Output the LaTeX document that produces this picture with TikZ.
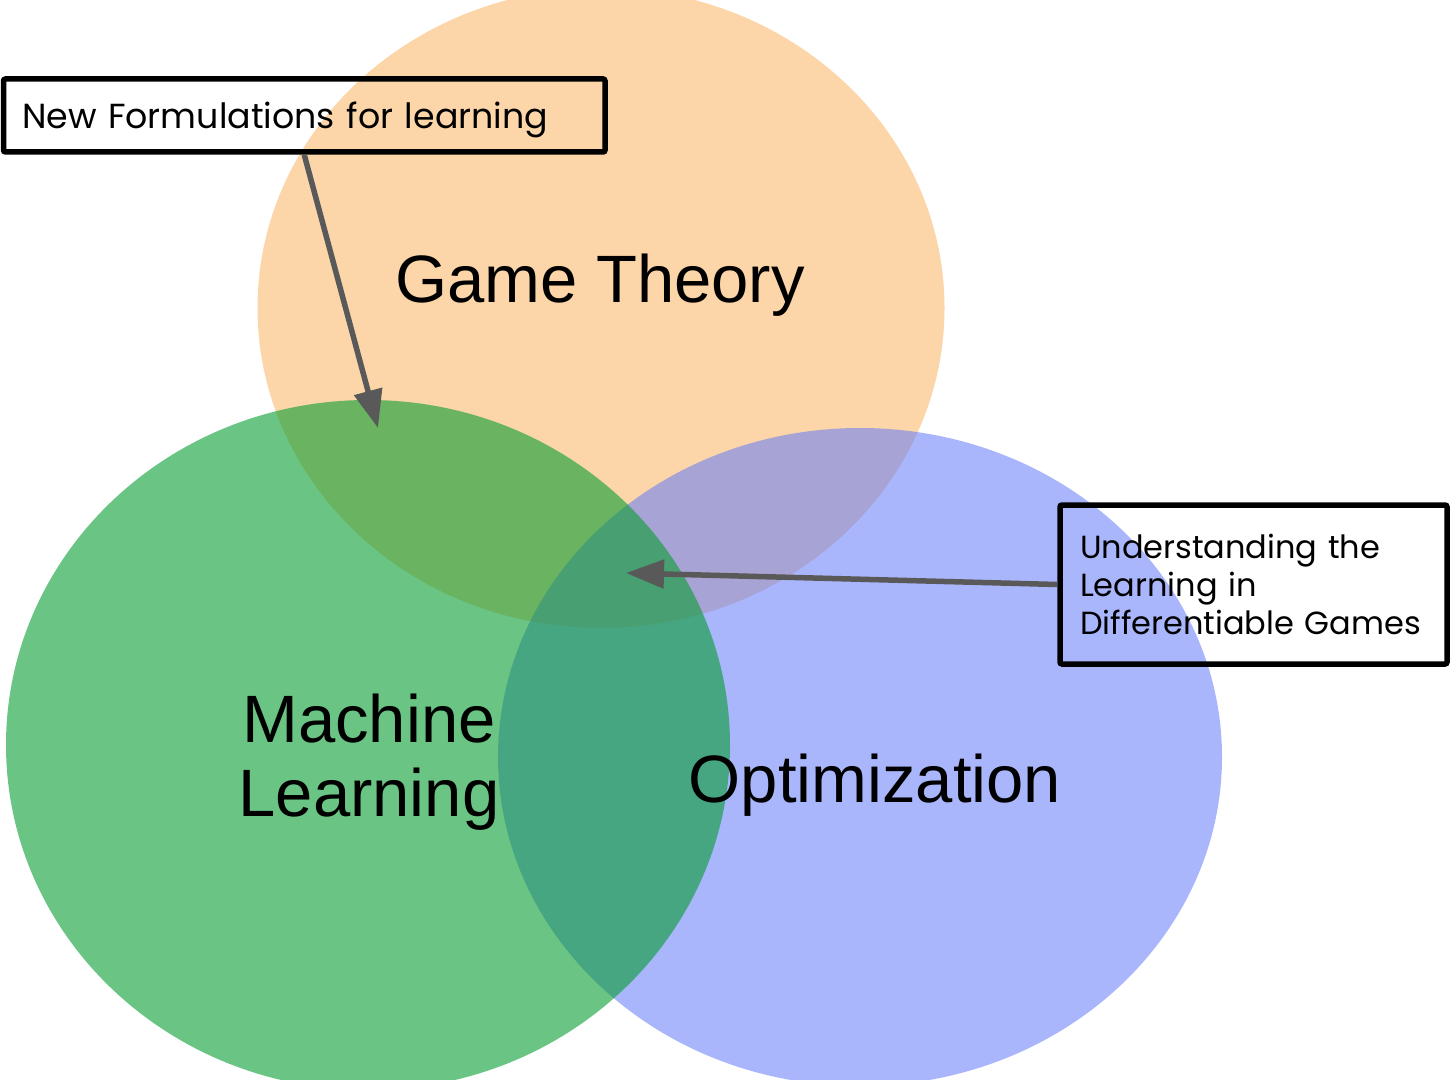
\documentclass[tikz,border=0pt]{standalone}
\usepackage{fontspec}
\setmainfont{Liberation Sans}
\newfontfamily\notefont{Poppins}
\usetikzlibrary{arrows.meta}
\definecolor{gtorange}{RGB}{252,213,168}
\definecolor{optblue}{RGB}{98,122,249}
\definecolor{mlgreen}{RGB}{7,157,50}
\definecolor{arrowgray}{RGB}{89,89,89}
\begin{document}
\begin{tikzpicture}[x=0.5pt,y=-0.5pt,
  field/.style={font=\fontsize{33.5}{37}\selectfont, inner sep=0pt, text=black},
  notebox/.style={draw=black, line width=2.75pt, rounded corners=1pt,
    font=\notefont\fontsize{16}{19}\selectfont, align=left, inner ysep=0pt},
  pointer/.style={draw=arrowgray, line width=2.75pt,
    -{Triangle[length=19pt,width=14pt]}}]
\useasboundingbox (0,0) rectangle (1450,1080);
\clip (0,0) rectangle (1450,1080);

% the three fields
\fill[gtorange] (601,308) ellipse [x radius=343.5, y radius=320];
\fill[optblue, fill opacity=0.55] (860,757) ellipse [x radius=362, y radius=329];
\fill[mlgreen, fill opacity=0.6] (368,745) ellipse [x radius=362, y radius=345];

% field names
\node[field, anchor=base] (gt) at (600,303) {Game Theory};
\node[field, anchor=center, align=center] (ml) at (369,762) {Machine\\Learning};
\node[field, anchor=base] (opt) at (875,802) {Optimization};

% annotation boxes
\node[notebox, font=\notefont\fontsize{17.4}{20}\selectfont,
  inner xsep=9.25pt, text width=282.25pt, minimum height=36.5pt,
  text height=15pt, text depth=1.5pt] (nf) at (304.25,115.5)
  {New Formulations for learning};
\node[notebox, inner xsep=10pt, text width=173.5pt, minimum height=79.5pt]
  (ug) at (1253.5,584.5)
  {Understanding the\\Learning in\\Differentiable Games};

% pointers into the overlaps
\coordinate (t1) at (378,428);
\coordinate (t2) at (626,573);
\draw[pointer] (nf.south) -- (t1);
\draw[pointer] (ug.west) -- (t2);
\end{tikzpicture}
\end{document}
